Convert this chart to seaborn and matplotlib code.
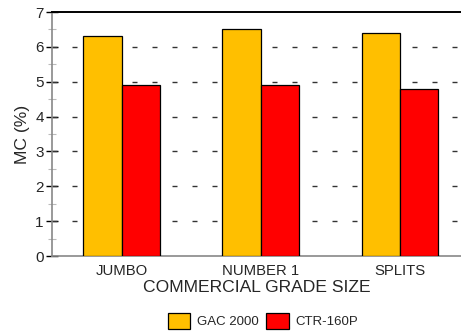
import pandas as pd
import matplotlib.pyplot as plt
import seaborn as sns
from matplotlib.ticker import MultipleLocator

# values
sizes = ["JUMBO", "NUMBER 1", "SPLITS"]
gac_2000 = [6.3, 6.5, 6.4]
ctr_160p = [4.9, 4.92, 4.8]
series = ["GAC 2000", "CTR-160P"]
colors = ["#FFBF00", "#FF0000"]

df = pd.DataFrame({
    "Size": sizes * 2,
    "MC": gac_2000 + ctr_160p,
    "Meter": [series[0]] * 3 + [series[1]] * 3,
})

sns.set_style("white")
plt.rcParams["font.family"] = ["Liberation Sans", "DejaVu Sans"]

fig = plt.figure(figsize=(4.61, 3.35), dpi=100)
ax = fig.add_axes([52 / 461, 1 - 256 / 335, 1 - 52 / 461, 244 / 335])

sns.barplot(data=df, x="Size", y="MC", hue="Meter", palette=colors,
            width=0.55, gap=0, saturation=1, edgecolor="black",
            linewidth=0.9, legend=False, ax=ax, zorder=3)

ax.set_ylim(0, 7)
ax.set_xlim(-0.5, 2.44)
ax.yaxis.set_major_locator(MultipleLocator(1))
ax.yaxis.set_minor_locator(MultipleLocator(0.5))
ax.set_xticks([0, 1, 2])
ax.set_xticks([-0.5, 0.5, 1.5], minor=True)
ax.tick_params(axis="x", which="major", length=0, labelsize=10.7, pad=6)
ax.tick_params(axis="x", which="minor", length=4, color="#999999", direction="out")
ax.tick_params(axis="y", which="major", length=8, width=1, color="black",
               direction="inout", labelsize=11, left=True, pad=2)
ax.tick_params(axis="y", which="minor", length=6, width=0.8, color="#bbbbbb",
               direction="inout", left=True)

for v in range(1, 7):
    ax.axhline(v, color="#333333", lw=1, dashes=(3.6, 10.8), zorder=1)

ax.spines["right"].set_visible(False)
ax.spines["top"].set_color("black")
ax.spines["top"].set_linewidth(1.4)
ax.spines["left"].set_color("#888888")
ax.spines["left"].set_linewidth(1.2)
ax.spines["bottom"].set_color("#888888")
ax.spines["bottom"].set_linewidth(1.2)

ax.set_xlabel("COMMERCIAL GRADE SIZE", fontsize=12.6, labelpad=1)
ax.set_ylabel("MC (%)", fontsize=12.6, labelpad=4)

handles = [plt.Rectangle((0, 0), 1, 1, facecolor=c, edgecolor="black", lw=0.9)
           for c in colors]
fig.legend(handles, series, loc="center", bbox_to_anchor=(263 / 461, 1 - 321 / 335),
           ncol=2, frameon=False, fontsize=9.5, handlelength=1.7, handleheight=1.5,
           handletextpad=0.5, columnspacing=0.6, borderaxespad=0)

fig.savefig("out.png", dpi=100)
